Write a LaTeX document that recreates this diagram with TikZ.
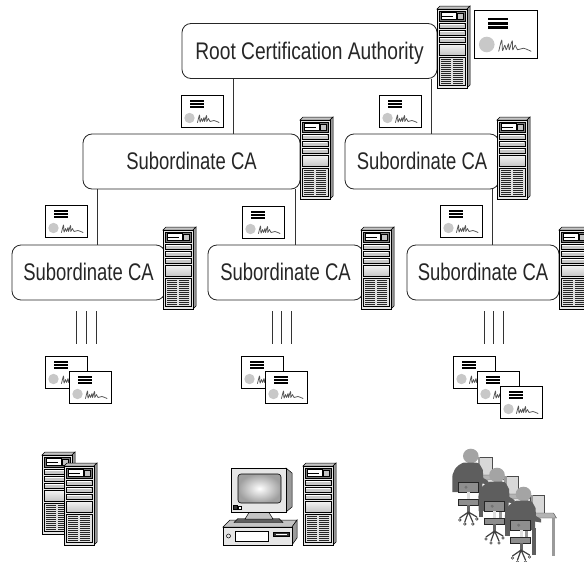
\documentclass[tikz,border=0pt]{standalone}
\usepackage{fontspec}
\newfontfamily\rootfont[FakeStretch=0.80]{Liberation Sans}
\newfontfamily\subfont[FakeStretch=0.77]{Liberation Sans}

\definecolor{frontgray}{HTML}{E6E6E6}
\definecolor{sidegray}{HTML}{9A9A9A}
\definecolor{topgray}{HTML}{C4C4C4}
\definecolor{baygray}{HTML}{7A7A7A}
\definecolor{sealgray}{HTML}{C8C8C8}
\definecolor{inkgray}{HTML}{555555}
\definecolor{headgray}{HTML}{A4A4A4}
\definecolor{bodygray}{HTML}{5E5E5E}
\definecolor{chairgray}{HTML}{8E8E8E}
\definecolor{deskgray}{HTML}{B4B4B4}
\definecolor{screenlight}{HTML}{D8D8D8}

\tikzset{
  % tower server, origin at the top-left corner, 33 x 82
  server/.pic={
    \filldraw[fill=topgray, draw=black, line width=0.5pt] (0,3) -- (3,0) -- (33,0) -- (30,3) -- cycle;
    \filldraw[fill=sidegray, draw=black, line width=0.5pt] (30,3) -- (33,0) -- (33,79) -- (30,82) -- cycle;
    \filldraw[fill=frontgray, draw=black, line width=0.5pt] (0,3) rectangle (30,82);
    \filldraw[fill=baygray, draw=black, line width=0.4pt] (2,5) rectangle (28,15.5);
    \filldraw[fill=white, draw=black, line width=0.3pt] (4,6.5) rectangle (19,12.8);
    \fill[black] (5,9.5) rectangle (16,11);
    \filldraw[fill=topgray, draw=black, line width=0.3pt] (20.5,7.5) rectangle (26,12.8);
    \foreach \yy in {17.5,24.5,31.5}{
      \filldraw[fill=frontgray!70!gray, draw=black, line width=0.4pt] (2,\yy) rectangle (28,\yy+4.5);
      \draw[white, line width=0.5pt] (3,\yy+1.2) -- (27,\yy+1.2);
    }
    \shade[top color=gray!8, bottom color=gray!45] (2,38) rectangle (28,49);
    \draw[line width=0.4pt] (2,38) rectangle (28,49);
    \filldraw[fill=gray!25, draw=black, line width=0.4pt] (2,51) rectangle (28,79.5);
    \foreach \i in {0,...,12}{
      \fill[black!85] (4,52.6+2*\i) rectangle (13.8,53.7+2*\i);
      \fill[black!85] (16.2,52.6+2*\i) rectangle (26,53.7+2*\i);
    }
  },
  % certificate, origin at the top-left corner, 42 x 32
  cert/.pic={
    \filldraw[fill=white, draw=black, line width=0.7pt] (0,0) rectangle (42,32);
    \fill[black] (9,5) rectangle (22.5,6.9);
    \fill[black] (9,7.9) rectangle (22.5,9.8);
    \fill[black] (9,10.8) rectangle (22.5,12.7);
    \fill[sealgray] (8.5,23) circle (5.2);
    \draw[inkgray, line width=0.75pt, line cap=round, line join=round]
      plot[smooth, tension=0.5] coordinates {(16.5,27.5) (18.5,20) (19,27) (20.5,23.5) (21.5,26.5) (23,22.5) (23.5,26.5) (25.5,20.5) (25.8,26.5) (27.5,23.5) (29,26.5) (33,25.5) (38,27.5)};
  },
  % seated operator at a desk, origin at the centre of the head
  person/.pic={
    \filldraw[fill=screenlight, draw=black!70, line width=0.4pt] (7,1) rectangle (21,19);
    \fill[sidegray] (7,1) rectangle (9.5,19);
    \filldraw[fill=deskgray, draw=black!70, line width=0.4pt] (6,19) -- (30,19) -- (33,24) -- (9,24) -- cycle;
    \fill[sidegray] (28,24) rectangle (31,62);
    \fill[headgray] (0,0) ellipse (7.8 and 7.3);
    \fill[bodygray] (-7,6.5) -- (5,6.5) to[out=0,in=120] (12,14) -- (12.5,22) -- (17.5,25) -- (17.5,28.5) -- (11.5,27.5) -- (11.5,36) -- (-18.5,36) -- (-18.5,24) to[out=95,in=200] (-7,6.5) -- cycle;
    \fill[bodygray] (8,34) rectangle (12.5,61);
    \filldraw[fill=chairgray, draw=black!85, line width=0.5pt] (-12.8,26) rectangle (7.2,36);
    \fill[black!55] (-4.8,31.2) circle (1.7);
    \fill[gray!25] (-4,36) rectangle (-1,43);
    \filldraw[fill=chairgray, draw=black!85, line width=0.5pt] (-12.8,43) rectangle (7.2,49);
    \fill[black!60] (-4,49) rectangle (-0.8,56);
    \draw[black!75, line width=1.2pt, line cap=round] (-2.4,56) -- (-11,62) (-2.4,56) -- (-6,66) (-2.4,56) -- (2,66) (-2.4,56) -- (6,61);
    \foreach \cx/\cy in {-11/64,-6/68,2/68,6/63}{\draw[black!75, line width=0.6pt] (\cx,\cy) circle (1.3);}
  }
}

\begin{document}
\begin{tikzpicture}[x=1pt,y=-1pt,
  ca/.style={draw=black!85, line width=0.8pt, rounded corners=9pt, fill=white,
             inner sep=0pt, minimum height=55pt, text=black!85,
             text height=16.5pt, text depth=0pt},
  rootca/.style={ca, font=\rootfont\fontsize{24}{28}\selectfont},
  subca/.style={ca, font=\subfont\fontsize{24}{28}\selectfont},
  link/.style={draw=black!80, line width=0.7pt},
  tick/.style={draw=black!80, line width=0.7pt}]
\useasboundingbox (0,0) rectangle (584,562);
\clip (0,0) rectangle (584,562);

% certificate authorities
\node[rootca, minimum width=255pt] (root) at (309.5,51) {Root Certification Authority};
\node[subca, minimum width=217pt] (sa) at (191.5,161.5) {Subordinate CA};
\node[subca, minimum width=154pt] (sb) at (422,161.5) {Subordinate CA};
\node[subca, minimum width=153pt] (sc) at (88.5,272.5) {Subordinate CA};
\node[subca, minimum width=155pt] (sd) at (285.5,272.5) {Subordinate CA};
\node[subca, minimum width=152pt] (se) at (483,272.5) {Subordinate CA};

% hierarchy links
\coordinate (xa) at (233,0);
\coordinate (xb) at (431,0);
\coordinate (xc) at (97,0);
\coordinate (xd) at (295,0);
\coordinate (xe) at (492,0);
\draw[link] (root.south -| xa) -- (sa.north -| xa);
\draw[link] (root.south -| xb) -- (sb.north -| xb);
\draw[link] (sa.south -| xc) -- (sc.north -| xc);
\draw[link] (sa.south -| xd) -- (sd.north -| xd);
\draw[link] (sb.south -| xe) -- (se.north -| xe);

% servers beside each authority
\pic at (437,6) {server};
\pic at (300,117) {server};
\pic at (497,117) {server};
\pic at (163,227) {server};
\pic at (361,227) {server};
\pic at (559,227) {server};

% authority certificates
\pic[scale=1.5] at (474,10) {cert};
\pic at (181,95) {cert};
\pic at (379,95) {cert};
\pic at (45,205) {cert};
\pic at (242,206) {cert};
\pic at (440,205) {cert};

% issuing marks
\foreach \x in {76,86,96}{\draw[tick] (\x,311) -- (\x,344);}
\foreach \x in {272,281,291}{\draw[tick] (\x,311) -- (\x,344);}
\foreach \x in {484,493,503}{\draw[tick] (\x,311) -- (\x,344);}

% issued certificates
\pic at (45,356) {cert};
\pic at (69,371) {cert};
\pic at (241,356) {cert};
\pic at (265,371) {cert};
\pic at (453,356) {cert};
\pic at (477,371) {cert};
\pic at (500,386) {cert};

% server pair
\pic at (42,452) {server};
\pic at (64,463) {server};

% desktop computer
\filldraw[fill=topgray, draw=black, line width=0.5pt] (223,527) -- (230,520) -- (297,520) -- (292,527) -- cycle;
\filldraw[fill=sidegray, draw=black, line width=0.5pt] (292,527) -- (297,520) -- (297,538) -- (292,545) -- cycle;
\filldraw[fill=frontgray, draw=black, line width=0.5pt] (223,527) rectangle (292,545);
\draw[black, line width=0.5pt] (228.5,536) circle (2);
\filldraw[fill=white, draw=black, line width=0.4pt] (235,531) rectangle (268,541);
\filldraw[fill=black!80, draw=black, line width=0.4pt] (273,532) rectangle (289,536.5);
\draw[white, line width=0.4pt] (276,534.2) -- (287,534.2);
\filldraw[fill=bodygray, draw=black, line width=0.4pt] (238,518.5) -- (279,518.5) -- (283,522.5) -- (234,522.5) -- cycle;
\filldraw[fill=topgray, draw=black, line width=0.5pt] (250,511) -- (268,511) -- (273,519) -- (245,519) -- cycle;
\filldraw[fill=sidegray, draw=black, line width=0.5pt] (286,468) -- (292,473) -- (292,507) -- (286,512) -- cycle;
\filldraw[fill=frontgray, draw=black, line width=0.5pt] (231,468) rectangle (286,512);
\shade[inner color=white, outer color=gray!75, rounded corners=3pt] (238,474) rectangle (281,503);
\draw[black, line width=0.6pt, rounded corners=3pt] (238,474) rectangle (281,503);
\filldraw[fill=black!80, draw=black, line width=0.3pt] (233.5,505.5) rectangle (237.5,509.5);
\filldraw[fill=white, draw=black, line width=0.3pt] (238.5,506.5) rectangle (241,509.5);
\pic at (303,463) {server};

% operators at workstations
\pic at (470.8,456) {person};
\pic at (497,475) {person};
\pic at (523.5,494) {person};
\end{tikzpicture}
\end{document}
